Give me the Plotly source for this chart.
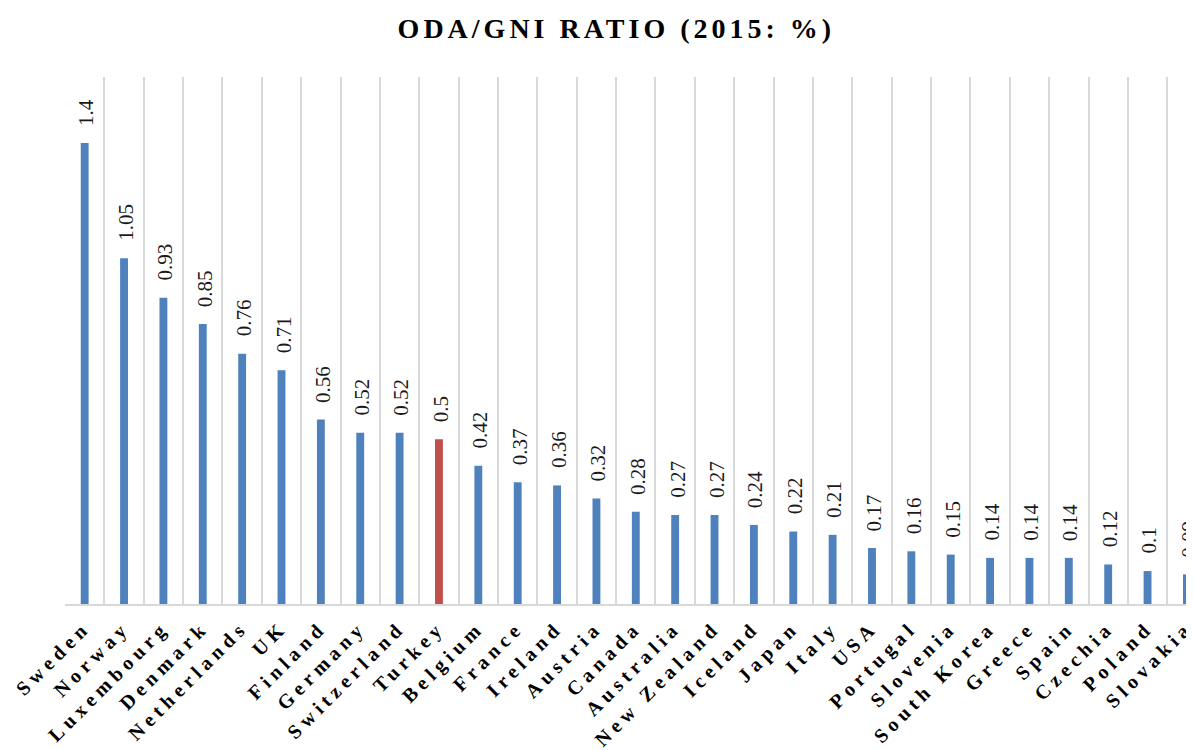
import plotly.graph_objects as go

countries = ["Sweden", "Norway", "Luxembourg", "Denmark", "Netherlands", "UK", "Finland",
             "Germany", "Switzerland", "Turkey", "Belgium", "France", "Ireland", "Austria",
             "Canada", "Australia", "New Zealand", "Iceland", "Japan", "Italy", "USA",
             "Portugal", "Slovenia", "South Korea", "Greece", "Spain", "Czechia", "Poland",
             "Slovakia"]
values = [1.4, 1.05, 0.93, 0.85, 0.76, 0.71, 0.56, 0.52, 0.52, 0.5, 0.42, 0.37, 0.36, 0.32,
          0.28, 0.27, 0.27, 0.24, 0.22, 0.21, 0.17, 0.16, 0.15, 0.14, 0.14, 0.14, 0.12, 0.1,
          0.09]
highlight = "Turkey"

BLUE = "#4F81BD"
RED = "#C0504D"
colors = [RED if c == highlight else BLUE for c in countries]

fig = go.Figure()
fig.add_trace(go.Bar(x=countries, y=values, marker=dict(color=colors, line=dict(width=0)),
                     width=0.2, hoverinfo="x+y"))

for c, v in zip(countries, values):
    fig.add_annotation(x=c, y=v, text=str(v), textangle=-90, showarrow=False,
                       yanchor="bottom", xanchor="center", yshift=15, xshift=2,
                       font=dict(family="Liberation Serif", size=21, color="#1a1a1a"))

ticktext = ['<span style="letter-spacing:5px">%s</span>' % c for c in countries]

fig.update_layout(
    width=1186, height=742,
    margin=dict(l=57, r=0, t=69, b=146, autoexpand=False),
    paper_bgcolor="white", plot_bgcolor="white",
    showlegend=False,
    title=dict(text='<span style="letter-spacing:4px">ODA/GNI RATIO (2015: %)</span>',
               x=0.513, xanchor="center", y=0.973, yanchor="middle",
               font=dict(family="Liberation Serif", size=28, color="black", weight="bold")),
    xaxis=dict(type="category", range=[-0.5, 28.18], tickson="boundaries", automargin=False,
               showgrid=True, gridcolor="#D9D9D9", gridwidth=2,
               showline=True, linecolor="#D9D9D9", linewidth=2,
               ticks="", tickangle=-45, ticklabelstandoff=2,
               tickvals=countries, ticktext=ticktext,
               tickfont=dict(family="Liberation Serif", size=20, color="black", weight="bold")),
    yaxis=dict(range=[0, 1.6], showgrid=False, showticklabels=False, zeroline=False,
               showline=False, ticks="", automargin=False),
)

fig.write_html("out.html")
